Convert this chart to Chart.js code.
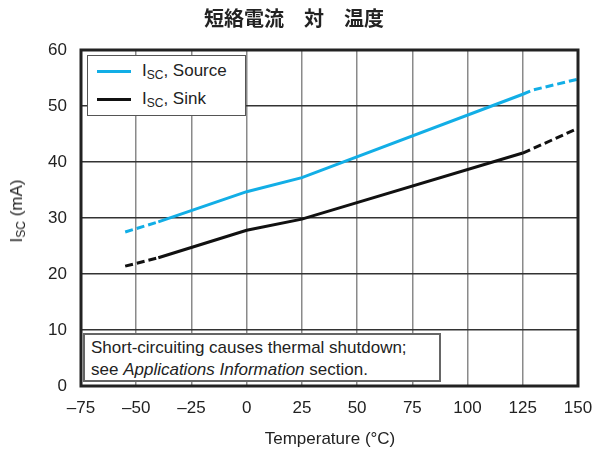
<!DOCTYPE html>
<html lang="ja">
<head>
  <meta charset="UTF-8">
  <title>短絡電流 対 温度</title>
  <script src="https://cdn.jsdelivr.net/npm/chart.js"></script>
  <style>
    body {
      margin: 0;
      background: #fff;
      font-family: 'Liberation Sans', Arial, sans-serif;
      color: #222;
    }
    .wrap {
      position: relative;
      width: 594px;
      height: 457px;
    }
    canvas { position: absolute; left: 0; top: 0; }
    .title {
      position: absolute;
      left: 0; width: 594px; top: 5px;
      text-align: center;
      font-family: 'Noto Sans CJK JP', sans-serif;
      font-weight: bold;
      font-size: 20px;
      line-height: 26px;
      padding-right: 6px;
      box-sizing: border-box;
    }
    .legend {
      position: absolute;
      left: 87px; top: 55px;
      width: 159px; height: 61px;
      box-sizing: border-box;
      border: 1.5px solid #555;
      background: #fff;
    }
    .legend .row {
      position: absolute;
      left: 9px;
      height: 24px;
      font-size: 17px;
      line-height: 24px;
    }
    .legend .swatch {
      position: absolute;
      left: 0; top: 11px;
      width: 34px; height: 3px;
    }
    .legend .txt { position: absolute; left: 45px; top: 0; white-space: nowrap; }
    sub { font-size: 12px; vertical-align: -3px; line-height: 0; }
    .note {
      position: absolute;
      left: 83px; top: 333px;
      width: 358px; height: 49px;
      box-sizing: border-box;
      border: 2px solid #666;
      background: #fff;
      font-size: 17px;
      line-height: 22px;
      padding: 2px 0 0 6px;
      white-space: nowrap;
    }
    .ytitle {
      position: absolute;
      left: 17px; top: 211px;
      transform: translate(-50%, -50%) rotate(-90deg);
      font-size: 17px;
      white-space: nowrap;
    }
    .xtitle {
      position: absolute;
      left: 330px; top: 439px;
      transform: translate(-50%, -50%);
      font-size: 17px;
      white-space: nowrap;
    }
  </style>
</head>
<body>
  <div class="wrap">
    <canvas id="chart" width="594" height="457"></canvas>
    <div class="title">短絡電流　対　温度</div>
    <div class="legend">
      <div class="row" style="top:3px"><div class="swatch" style="background:#12aee6"></div><span class="txt">I<sub>SC</sub>, Source</span></div>
      <div class="row" style="top:31px"><div class="swatch" style="background:#111"></div><span class="txt">I<sub>SC</sub>, Sink</span></div>
    </div>
    <div class="note">Short-circuiting causes thermal shutdown;<br>see <i>Applications Information</i> section.</div>
    <div class="ytitle">I<sub>SC</sub> (mA)</div>
    <div class="xtitle">Temperature (°C)</div>
  </div>

  <script>
    // data
    const sourceTemp = [-55, -40, 0, 25, 125, 130, 150];
    const sourceIsc = [27.5, 29.3, 34.7, 37.2, 52.1, 52.9, 54.8];
    const sinkTemp = [-55, -40, 0, 25, 125, 150];
    const sinkIsc = [21.4, 22.9, 27.8, 29.8, 41.6, 46.0];
    const xTicks = [-75, -50, -25, 0, 25, 50, 75, 100, 125, 150];
    const yTicks = [0, 10, 20, 30, 40, 50, 60];

    const toPoints = (xs, ys) => xs.map((x, i) => ({ x: x, y: ys[i] }));
    // dashed outside the -40..125 range
    const dashOutside = ctx => (ctx.p0.parsed.x < -40 || ctx.p0.parsed.x >= 125) ? [8, 4] : undefined;

    // thick frame round the plot area
    const framePlugin = {
      id: 'frame',
      afterDraw(chart) {
        const a = chart.chartArea;
        const c = chart.ctx;
        c.save();
        c.strokeStyle = '#222';
        c.lineWidth = 3;
        c.strokeRect(a.left, a.top, a.right - a.left, a.bottom - a.top);
        c.restore();
      }
    };

    new Chart(document.getElementById('chart'), {
      type: 'line',
      data: {
        datasets: [
          {
            label: 'Source',
            data: toPoints(sourceTemp, sourceIsc),
            borderColor: '#12aee6',
            borderWidth: 3,
            pointRadius: 0,
            segment: { borderDash: dashOutside }
          },
          {
            label: 'Sink',
            data: toPoints(sinkTemp, sinkIsc),
            borderColor: '#111',
            borderWidth: 3,
            pointRadius: 0,
            segment: { borderDash: dashOutside }
          }
        ]
      },
      options: {
        responsive: false,
        animation: false,
        layout: { padding: { left: 0, right: 16, top: 50, bottom: 0 } },
        plugins: {
          legend: { display: false },
          tooltip: { enabled: false }
        },
        scales: {
          x: {
            type: 'linear',
            min: -75,
            max: 150,
            afterBuildTicks: s => { s.ticks = xTicks.map(v => ({ value: v })); },
            afterFit: s => { s.height = 71; s.paddingLeft = 0; s.paddingRight = 0; },
            grid: { color: '#8a8a8a', lineWidth: 1.5, drawTicks: false },
            border: { display: false },
            ticks: {
              padding: 12,
              color: '#222',
              font: { family: 'Liberation Sans', size: 17 },
              callback: v => v < 0 ? '\u2013' + Math.abs(v) : '' + v
            }
          },
          y: {
            min: 0,
            max: 60,
            afterBuildTicks: s => { s.ticks = yTicks.map(v => ({ value: v })); },
            afterFit: s => { s.width = 81; s.paddingTop = 0; s.paddingBottom = 0; },
            grid: { color: '#333', lineWidth: 1.5, drawTicks: false },
            border: { display: false },
            ticks: {
              padding: 14,
              color: '#222',
              font: { family: 'Liberation Sans', size: 17 }
            }
          }
        }
      },
      plugins: [framePlugin]
    });
  </script>
</body>
</html>
